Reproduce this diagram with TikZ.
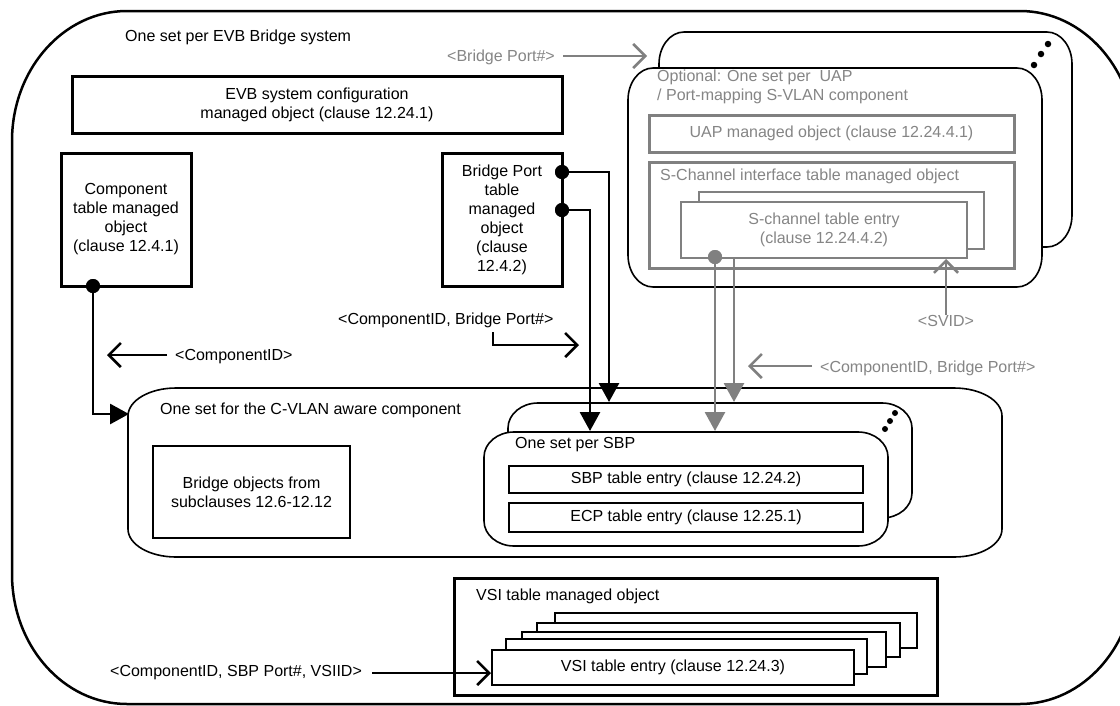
\documentclass[tikz,border=0pt]{standalone}
\usepackage{fontspec}
\setmainfont{Liberation Sans}
\usetikzlibrary{arrows.meta}
\definecolor{gline}{HTML}{808080}
\definecolor{gtext}{HTML}{858585}
\newcommand\ellbox[7][]{%
 \draw[#1] ({#2+#6},#3) -- ({#4-#6},#3)
  .. controls ({#4-0.448*#6},#3) and (#4,{#3+0.448*#7}) .. (#4,{#3+#7})
  -- (#4,{#5-#7})
  .. controls (#4,{#5-0.448*#7}) and ({#4-0.448*#6},#5) .. ({#4-#6},#5)
  -- ({#2+#6},#5)
  .. controls ({#2+0.448*#6},#5) and (#2,{#5-0.448*#7}) .. (#2,{#5-#7})
  -- (#2,{#3+#7})
  .. controls (#2,{#3+0.448*#7}) and ({#2+0.448*#6},#3) .. ({#2+#6},#3) -- cycle;}
\begin{document}
\begin{tikzpicture}[x=1pt,y=-1pt,
  font=\fontsize{16}{19}\selectfont,
  thickbox/.style={draw, line width=3pt, inner sep=0pt, align=center, fill=white},
  thinbox/.style={draw, line width=1.5pt, inner sep=0pt, align=center, fill=white},
  gbox/.style={draw=gline, line width=3pt, inner sep=0pt, align=center, text=gtext},
  gentry/.style={draw=gline, line width=2.5pt, inner sep=0pt, align=center, fill=white, text=gtext},
  vsientry/.style={draw, line width=2.5pt, inner sep=0pt, fill=white},
  lbl/.style={inner sep=0pt, anchor=west},
  glbl/.style={inner sep=0pt, anchor=west, text=gtext},
  dot/.style={circle, fill, inner sep=0pt, minimum size=14pt},
  sdots/.style={circle, fill, inner sep=0pt, minimum size=6.5pt},
  conn/.style={line width=2.8pt, -{Triangle[length=19pt,width=20pt]}},
  gconn/.style={conn, draw=gline, fill=gline},
  barb/.style={line width=2.6pt, -{Straight Barb[length=12pt,width=24pt]}},
  gbarb/.style={barb, draw=gline}]
\useasboundingbox (0,0) rectangle (1120,705);
\fill[white] (0,0) rectangle (1120,705);
\clip (0,0) rectangle (1120,705);

% outer frame
\ellbox[line width=2.5pt]{12}{11}{1135}{704}{115}{130}
\node[lbl] (evbsys) at (125,37) {One set per EVB Bridge system};

% EVB system configuration
\node[thickbox, minimum width=490pt, minimum height=57pt] (evbcfg) at (317,104.5)
  {EVB system configuration\\managed object (clause 12.24.1)};

% component table
\node[thickbox, minimum width=130pt, minimum height=133pt] (comp) at (126,219.5)
  {Component\\table managed\\object\\(clause 12.4.1)};

% bridge port table
\node[thickbox, minimum width=120pt, minimum height=133pt] (bport) at (502,219.5)
  {Bridge Port\\table\\managed\\object\\(clause\\12.4.2)};

% optional UAP stack
\ellbox[line width=1.6pt, fill=white]{659}{32}{1072}{247}{25}{32}
\ellbox[line width=1.6pt, fill=white]{628}{68}{1042}{287}{25}{32}
\node[sdots] (od1) at (1048,44) {};
\node[sdots] (od2) at (1041,54) {};
\node[sdots] (od3) at (1034,65) {};
\node[glbl, anchor=north west, align=left] (opt) at (657,70)
  {Optional: One set per\ \ UAP\\/ Port-mapping S-VLAN component};
\node[gbox, minimum width=365pt, minimum height=37pt] (uap) at (831.5,133.5)
  {UAP managed object (clause 12.24.4.1)};
\node[gbox, minimum width=365pt, minimum height=106pt] (sci) at (831.5,215) {};
\node[glbl] (scil) at (660,176) {S-Channel interface table managed object};
\node[gentry, minimum width=285pt, minimum height=57pt] (scback) at (841.5,220.5) {};
\node[gentry, minimum width=286pt, minimum height=56pt] (scfront) at (824,230)
  {S-channel table entry\\(clause 12.24.4.2)};

% C-VLAN aware component
\ellbox[line width=1.6pt]{128}{388}{1002}{557}{48}{28}
\node[lbl] (cvl) at (160,410) {One set for the C-VLAN aware component};
\node[thickbox, line width=2.5pt, minimum width=197pt, minimum height=92pt] (bobj) at (251.5,492)
  {Bridge objects from\\subclauses 12.6-12.12};

% SBP stack
\ellbox[line width=1.6pt, fill=white]{508}{403}{912}{518}{30}{25}
\ellbox[line width=1.6pt, fill=white]{484}{432}{888}{546}{30}{25}
\node[sdots, minimum size=6pt] (sd1) at (895,413) {};
\node[sdots, minimum size=6pt] (sd2) at (890,421) {};
\node[sdots, minimum size=6pt] (sd3) at (885,429) {};
\node[lbl] (sbpl) at (515,445) {One set per SBP};
\node[thinbox, minimum width=354pt, minimum height=27pt] (sbpe) at (686,479.5)
  {SBP table entry (clause 12.24.2)};
\node[thinbox, minimum width=354pt, minimum height=29pt] (ecpe) at (686,517.5)
  {ECP table entry (clause 12.25.1)};

% VSI table
\node[thickbox, minimum width=483pt, minimum height=117pt] (vsi) at (695.5,636.5) {};
\node[lbl] (vsil) at (476,596) {VSI table managed object};
\node[vsientry, minimum width=362pt, minimum height=35pt] (v5) at (736,630.5) {};
\node[vsientry, minimum width=363pt, minimum height=34pt] (v4) at (718.5,640) {};
\node[vsientry, minimum width=364pt, minimum height=35pt] (v3) at (704,649.5) {};
\node[vsientry, minimum width=361pt, minimum height=35pt] (v2) at (686.5,656.5) {};
\node[vsientry, minimum width=362pt, minimum height=35pt] (v1) at (673,667.5)
  {VSI table entry (clause 12.24.3)};

% named end points
\coordinate (bpfrom) at (563,56);
\coordinate (bpto) at (647,56);
\coordinate (cvin) at (129,414);
\coordinate (sbpbtop) at (609,402);
\coordinate (sbpftop) at (590,431);
\coordinate (gtop1) at (715,431);
\coordinate (gtop2) at (734,402);
\coordinate (gstart2) at (734,258);
\coordinate (svidtip) at (946,259);
\coordinate (cidfrom) at (167,355);
\coordinate (cidto) at (107,355);
\coordinate (bplfrom) at (493,332);
\coordinate (bplto) at (579,345);
\coordinate (gcidfrom) at (812,366);
\coordinate (gcidto) at (748,366);
\coordinate (vsifrom) at (372,673);
\coordinate (vsito) at (491,673);

% labels
\node[glbl] (lbp) at (447,57) {<Bridge Port\#>};
\node[lbl] (lcid) at (175,357) {<ComponentID>};
\node[lbl] (lbpc) at (338,320) {<ComponentID, Bridge Port\#>};
\node[glbl] (lgcid) at (820,368) {<ComponentID, Bridge Port\#>};
\node[glbl, anchor=center] (lsvid) at (946,321) {<SVID>};
\node[lbl] (lvsi) at (110,673) {<ComponentID, SBP Port\#, VSIID>};

% dots
\node[dot] (cdot) at (93,286) {};
\node[dot] (bpd1) at (562,172) {};
\node[dot] (bpd2) at (562,210) {};
\node[dot, gline] (sdot) at (715,257) {};

% connectors
\draw[conn] (cdot.center) |- (cvin);
\draw[conn] (bpd1.center) -| (sbpbtop);
\draw[conn] (bpd2.center) -| (sbpftop);
\draw[gconn] (sdot.center) -- (gtop1);
\draw[gconn] (gstart2) -- (gtop2);
\node[dot] at (cdot) {};
\node[dot] at (bpd1) {};
\node[dot] at (bpd2) {};
\node[dot, gline] at (sdot) {};

% label arrows
\draw[gbarb] (bpfrom) -- (bpto);
\draw[barb] (cidfrom) -- (cidto);
\draw[barb] (bplfrom) |- (bplto);
\draw[gbarb] (gcidfrom) -- (gcidto);
\draw[gbarb] (lsvid.north) -- (svidtip);
\draw[barb] (vsifrom) -- (vsito);
\end{tikzpicture}
\end{document}
